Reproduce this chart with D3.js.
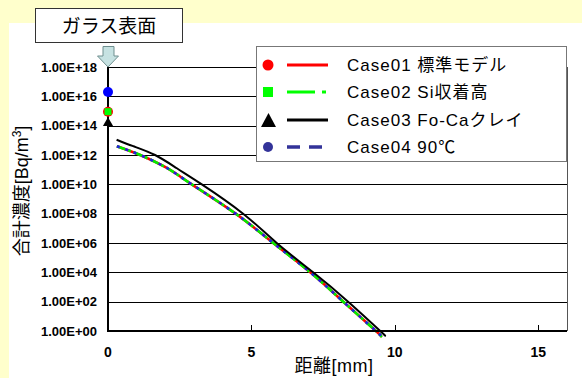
<!DOCTYPE html>
<html lang="ja">
  <head>
    <meta charset="UTF-8" />
    <title>合計濃度 vs 距離</title>
    <script src="https://d3js.org/d3.v7.min.js"></script>
    <style>
      body { margin: 0; background: #ffffcc; }
      svg { display: block; font-family: "Liberation Sans", Arial, "Noto Sans CJK JP", sans-serif; }
    </style>
  </head>
  <body>
    <svg id="chart" width="582" height="378"></svg>
    <script>
      // distance [mm] and total concentration [Bq/m3]
      const dist01 = [0.31, 1.12, 2.05, 2.92, 4.45, 5.76, 7.05, 8.2, 9.34, 9.49];
      const conc01 = [4.0e12, 1.0e12, 1.3e11, 1.0e10, 1.0e8, 1.0e6, 1.0e4, 1.0e2, 1.0, 0.47];
      const dist02 = dist01;
      const conc02 = conc01;
      const dist03 = [0.3, 0.88, 1.64, 2.4, 3.27, 4.71, 5.88, 7.15, 8.37, 9.49, 9.63];
      const conc03 = [1.1e13, 4.0e12, 1.0e12, 1.25e11, 1.0e10, 1.0e8, 1.0e6, 1.0e4, 1.0e2, 1.0, 0.54];
      const dist04 = dist01;
      const conc04 = conc01;

      // values at the glass surface (distance 0)
      const surfaceConc = [9e14, 9e14, 1.5e14, 2e16];

      const caseNames = ["Case01 標準モデル", "Case02 Si収着高", "Case03 Fo-Caクレイ", "Case04 90℃"];
      const yTicks = [1, 1e2, 1e4, 1e6, 1e8, 1e10, 1e12, 1e14, 1e16, 1e18];
      const xTicks = [0, 5, 10, 15];

      const svg = d3.select("#chart");

      // white panel
      svg.append("rect").attr("x", 9).attr("y", 23).attr("width", 573).attr("height", 355).attr("fill", "#fff");

      const x = d3.scaleLinear().domain([0, 16]).range([108, 567]);
      const y = d3.scaleLog().domain([1, 1e18]).range([331, 67]);

      // grid lines
      svg.append("g")
        .selectAll("line")
        .data(yTicks.slice(1))
        .join("line")
        .attr("x1", 108).attr("x2", 567)
        .attr("y1", (d) => Math.round(y(d)) + 0.5)
        .attr("y2", (d) => Math.round(y(d)) + 0.5)
        .attr("stroke", "#000").attr("stroke-width", 1);

      // right border
      svg.append("line").attr("x1", 567.5).attr("x2", 567.5).attr("y1", 67).attr("y2", 331)
        .attr("stroke", "#555").attr("stroke-width", 1);

      // y tick labels
      svg.append("g")
        .selectAll("text")
        .data(yTicks)
        .join("text")
        .attr("x", 97)
        .attr("y", (d) => y(d))
        .attr("dy", "0.36em")
        .attr("text-anchor", "end")
        .attr("font-size", 13)
        .attr("font-weight", "bold")
        .text((d) => "1.00E+" + d3.format("02")(Math.round(Math.log10(d))));

      // x ticks + labels
      svg.append("g")
        .selectAll("line")
        .data(xTicks.slice(1))
        .join("line")
        .attr("x1", (d) => Math.round(x(d)) + 0.5).attr("x2", (d) => Math.round(x(d)) + 0.5)
        .attr("y1", 325).attr("y2", 331)
        .attr("stroke", "#000");
      svg.append("g")
        .selectAll("text")
        .data(xTicks)
        .join("text")
        .attr("x", (d) => x(d))
        .attr("y", 357)
        .attr("text-anchor", "middle")
        .attr("font-size", 14)
        .attr("font-weight", "bold")
        .text((d) => d);

      // curves
      const line = d3.line()
        .x((d) => x(d[0]))
        .y((d) => y(d[1]))
        .curve(d3.curveNatural);

      const series = [
        { d: dist01, c: conc01, color: "#ff0000", w: 2.6, dash: null },
        { d: dist02, c: conc02, color: "#00ee00", w: 2.6, dash: "9,3,3,3" },
        { d: dist04, c: conc04, color: "#2020e0", w: 2.6, dash: "3,6" },
        { d: dist03, c: conc03, color: "#000000", w: 2, dash: null }
      ];
      svg.append("g")
        .selectAll("path")
        .data(series)
        .join("path")
        .attr("d", (s) => line(d3.zip(s.d, s.c)))
        .attr("fill", "none")
        .attr("stroke", (s) => s.color)
        .attr("stroke-width", (s) => s.w)
        .attr("stroke-dasharray", (s) => s.dash);

      // axes
      svg.append("line").attr("x1", 108).attr("x2", 567).attr("y1", 331).attr("y2", 331)
        .attr("stroke", "#000").attr("stroke-width", 2);
      svg.append("line").attr("x1", 108).attr("x2", 108).attr("y1", 66).attr("y2", 332)
        .attr("stroke", "#000").attr("stroke-width", 2);

      // surface markers
      const x0 = x(0);
      svg.append("path")
        .attr("d", d3.symbol(d3.symbolTriangle, 45)())
        .attr("transform", `translate(${x0},${y(surfaceConc[2])})`)
        .attr("fill", "#000");
      svg.append("circle").attr("cx", x0).attr("cy", y(surfaceConc[0])).attr("r", 5).attr("fill", "#ff0000");
      svg.append("rect").attr("x", x0 - 3.5).attr("y", y(surfaceConc[1]) - 3.5)
        .attr("width", 7).attr("height", 7).attr("fill", "#00ff00");
      svg.append("circle").attr("cx", x0).attr("cy", y(surfaceConc[3])).attr("r", 5).attr("fill", "#0000ff");

      // label box + arrow
      svg.append("rect").attr("x", 35.5).attr("y", 8.5).attr("width", 147).attr("height", 34)
        .attr("fill", "#fff").attr("stroke", "#333");
      svg.append("text").attr("x", 109).attr("y", 26).attr("dy", "0.36em")
        .attr("text-anchor", "middle").attr("font-size", 19).text("ガラス表面");
      svg.append("path")
        .attr("d", "M103,46.5 L114,46.5 L114,56 L118.5,56 L108,67 L97.5,56 L103,56 Z")
        .attr("fill", "#c6e2e2").attr("stroke", "#6f8f8f").attr("stroke-width", 1);

      // legend
      const lg = svg.append("g");
      lg.append("rect").attr("x", 256.5).attr("y", 46.5).attr("width", 310).attr("height", 115)
        .attr("fill", "#fff").attr("stroke", "#777");
      const rowY = [65, 92, 120, 147];
      const legColors = ["#ff0000", "#00ff00", "#000000", "#333399"];
      const legDash = [null, "28,7,4,7", null, "13,9"];
      lg.selectAll("line.k")
        .data(rowY)
        .join("line")
        .attr("x1", 287).attr("x2", 328)
        .attr("y1", (d) => d).attr("y2", (d) => d)
        .attr("stroke", (d, i) => legColors[i])
        .attr("stroke-width", (d, i) => (i === 3 ? 3.5 : 3))
        .attr("stroke-dasharray", (d, i) => legDash[i]);
      lg.append("circle").attr("cx", 268).attr("cy", rowY[0]).attr("r", 5.5).attr("fill", "#ff0000");
      lg.append("rect").attr("x", 263).attr("y", rowY[1] - 5).attr("width", 10).attr("height", 10).attr("fill", "#00ff00");
      lg.append("path").attr("d", "M261,127 L276,127 L268.5,113 Z").attr("fill", "#000");
      lg.append("circle").attr("cx", 268).attr("cy", rowY[3]).attr("r", 5).attr("fill", "#333399");
      lg.selectAll("text")
        .data(caseNames)
        .join("text")
        .attr("x", 347)
        .attr("y", (d, i) => rowY[i])
        .attr("dy", "0.36em")
        .attr("font-size", 17)
        .attr("letter-spacing", 1)
        .text((d) => d);

      // axis titles
      svg.append("text").attr("x", 334).attr("y", 366).attr("dy", "0.34em")
        .attr("text-anchor", "middle").attr("font-size", 18).attr("letter-spacing", 0.5).text("距離[mm]");
      const yt = svg.append("text")
        .attr("transform", "translate(22,191) rotate(-90)")
        .attr("dy", "0.36em")
        .attr("text-anchor", "middle")
        .attr("font-size", 18);
      yt.append("tspan").text("合計濃度[Bq/m");
      yt.append("tspan").attr("font-size", 12).attr("dy", "-0.6em").text("3");
      yt.append("tspan").attr("dy", "0.4em").text("]");
    </script>
  </body>
</html>
